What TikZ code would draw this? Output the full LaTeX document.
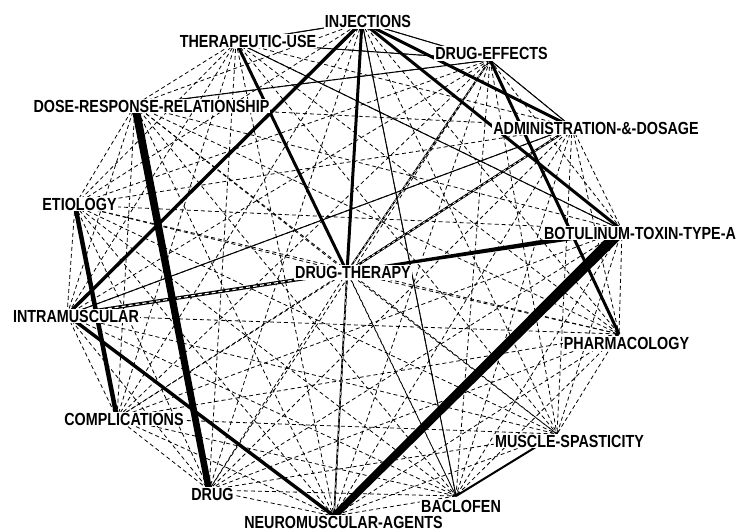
\documentclass[tikz,border=0pt]{standalone}
\usepackage{fontspec}
\newfontfamily\lblfont{Liberation Sans Bold}[FakeStretch=0.82]
\usetikzlibrary{calc}
\newcommand\tapered[4]{\fill ($(#1)!#3!90:(#2)$) -- ($(#1)!#3!-90:(#2)$) -- ($(#2)!#4!90:(#1)$) -- ($(#2)!#4!-90:(#1)$) -- cycle;}
\begin{document}
\begin{tikzpicture}[x=1pt,y=-1pt,
  dashedge/.style={line width=0.8pt, dash pattern=on 4pt off 3pt},
  wt/.style={line width=#1},
  hatchbig/.style={line width=3.4pt, postaction={draw=white, line width=1.1pt, dash pattern=on 4pt off 3pt}},
  hatchmid/.style={line width=2.2pt, postaction={draw=white, line width=0.7pt, dash pattern=on 3pt off 3pt}},
  hatchsmall/.style={line width=1.6pt, postaction={draw=white, line width=0.5pt, dash pattern=on 3pt off 3pt}},
  lbl/.style={fill=white, inner sep=1pt, font=\lblfont\fontsize{17.5}{18}\selectfont}]
\useasboundingbox (0,0) rectangle (741,531);
\fill[white] (0,0) rectangle (741,531);
% node points
\coordinate (inj) at (362,22);
\coordinate (ther) at (236,42);
\coordinate (de) at (490,60);
\coordinate (dose) at (135,105);
\coordinate (adm) at (572,127);
\coordinate (etio) at (75,205);
\coordinate (bot) at (622,230);
\coordinate (dt) at (347,272);
\coordinate (intr) at (67,315);
\coordinate (pha) at (619,334);
\coordinate (comp) at (117,418);
\coordinate (mus) at (557,434);
\coordinate (drug) at (209,490);
\coordinate (bac) at (456,496);
\coordinate (nma) at (334,516);
% all pairs dashed
\foreach \a [count=\i] in {inj,ther,de,dose,adm,etio,bot,dt,intr,pha,comp,mus,drug,bac,nma}{
  \foreach \b [count=\j] in {inj,ther,de,dose,adm,etio,bot,dt,intr,pha,comp,mus,drug,bac,nma}{
    \ifnum\j>\i \draw[dashedge] (\a) -- (\b); \fi
  }
}
% thin solid edges
\draw[wt=1pt] (inj) -- (de);
\draw[wt=1pt] (inj) -- (bac);
\draw[wt=1pt] (inj) -- (ther);
\draw[wt=1pt] (ther) -- (de);
\draw[wt=1pt] (ther) -- (bot);
\draw[wt=1pt] (dose) -- (de);
\draw[wt=1pt] (de) -- (adm);
\draw[wt=1pt] (adm) -- (intr);
\draw[wt=2pt] (mus) -- (bac);
% hatched edges
\draw[hatchbig] (dt) -- (intr);
\draw[hatchmid] (dt) -- (adm);
\draw[hatchsmall] (de) -- (dt);
\draw[hatchsmall] (dt) -- (nma);
% thick edges
\draw[wt=3.4pt] (inj) -- (intr);
\draw[wt=3.4pt] (intr) -- (nma);
\draw[wt=3pt] (inj) -- (dt);
\draw[wt=3pt] (inj) -- (adm);
\draw[wt=3pt] (inj) -- (bot);
\draw[wt=3pt] (ther) -- (dt);
\draw[wt=3pt] (de) -- (pha);
\draw[wt=4.5pt] (etio) -- (comp);
\tapered{dt}{bot}{1.2pt}{2.8pt}
\tapered{dose}{drug}{4pt}{3.2pt}
\tapered{bot}{nma}{5.5pt}{3.5pt}
% labels
\node[lbl] (linj) at (368,21.5) {INJECTIONS};
\node[lbl] (lther) at (248,41) {THERAPEUTIC-USE};
\node[lbl] (lde) at (491.5,53.5) {DRUG-EFFECTS};
\node[lbl] (ldose) at (151.5,106) {DOSE-RESPONSE-RELATIONSHIP};
\node[lbl] (ladm) at (596,128) {ADMINISTRATION-\&-DOSAGE};
\node[lbl] (letio) at (79.5,204) {ETIOLOGY};
\node[lbl] (lbot) at (640,233) {BOTULINUM-TOXIN-TYPE-A};
\node[lbl] (ldt) at (353,272.5) {DRUG-THERAPY};
\node[lbl] (lintr) at (76,316) {INTRAMUSCULAR};
\node[lbl] (lpha) at (626.5,343.5) {PHARMACOLOGY};
\node[lbl] (lcomp) at (124,419) {COMPLICATIONS};
\node[lbl] (lmus) at (569.5,441) {MUSCLE-SPASTICITY};
\node[lbl] (ldrug) at (212.5,494) {DRUG};
\node[lbl] (lbac) at (461,506) {BACLOFEN};
\node[lbl] (lnma) at (343.5,522) {NEUROMUSCULAR-AGENTS};
\end{tikzpicture}
\end{document}
